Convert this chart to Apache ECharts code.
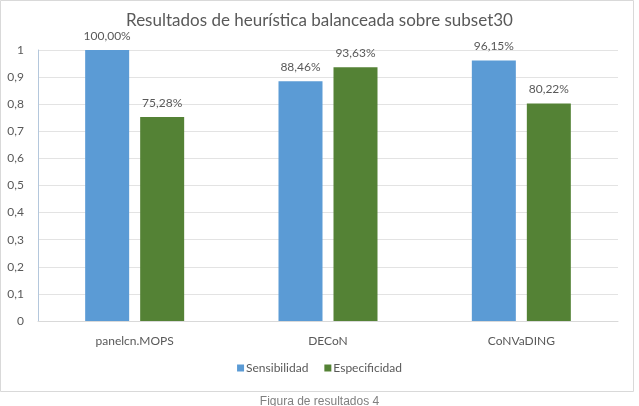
<!DOCTYPE html>
<html>
<head>
<meta charset="utf-8">
<script src="https://cdn.jsdelivr.net/npm/echarts@6/dist/echarts.min.js"></script>
<style>
  html, body { margin: 0; padding: 0; background: #fff; }
  #chart { width: 639px; height: 406px; }
</style>
</head>
<body>
<div id="chart"></div>
<script>
var categories = ['panelcn.MOPS', 'DECoN', 'CoNVaDING'];
var sensibilidad = [1.0, 0.8846, 0.9615];
var especificidad = [0.7528, 0.9363, 0.8022];

var chart = echarts.init(document.getElementById('chart'));

function pct(p) {
    return (p.value * 100).toFixed(2).replace('.', ',') + '%';
}

var option = {
    backgroundColor: '#fff',
    animation: false,
    textStyle: { fontFamily: 'Lato' },
    title: [
        {
            text: 'Resultados de heurística balanceada sobre subset30',
            left: 'center',
            top: 7,
            textStyle: { fontSize: 17, fontWeight: 'normal', color: '#595959', fontFamily: 'Lato' }
        },
        {
            text: 'Figura de resultados 4',
            left: 'center',
            top: 391,
            textStyle: { fontSize: 12, fontWeight: 'normal', color: '#7f7f7f', fontFamily: 'Liberation Sans' }
        }
    ],
    graphic: [
        {
            type: 'rect',
            shape: { x: 0.5, y: 0.5, width: 633, height: 391 },
            style: { fill: 'none', stroke: '#d9d9d9', lineWidth: 1 },
            silent: true
        }
    ],
    legend: {
        data: ['Sensibilidad', 'Especificidad'],
        bottom: 27,
        left: 'center',
        itemWidth: 7,
        itemHeight: 7,
        itemGap: 16,
        icon: 'rect',
        textStyle: { fontSize: 12, color: '#595959', padding: [0, 0, 0, -3] }
    },
    grid: {
        left: 38,
        right: 21,
        top: 50,
        bottom: 85
    },
    xAxis: {
        type: 'category',
        data: categories,
        axisLine: { show: true, lineStyle: { color: '#d9d9d9' } },
        axisTick: { show: false },
        axisLabel: { fontSize: 12, color: '#595959', margin: 14 }
    },
    yAxis: {
        type: 'value',
        min: 0,
        max: 1,
        interval: 0.1,
        axisLine: { show: true, lineStyle: { color: '#b4c7dc' } },
        axisTick: { show: false },
        splitLine: { lineStyle: { color: '#e3e3e3' } },
        axisLabel: {
            fontSize: 12,
            color: '#595959',
            margin: 14,
            formatter: function (v) {
                return String(Math.round(v * 10) / 10).replace('.', ',');
            }
        }
    },
    series: [
        {
            name: 'Sensibilidad',
            type: 'bar',
            data: sensibilidad,
            barWidth: 44,
            barGap: '25%',
            itemStyle: { color: '#5b9bd5' },
            label: {
                show: true,
                position: 'top',
                distance: 8,
                fontSize: 12,
                color: '#595959',
                formatter: pct
            }
        },
        {
            name: 'Especificidad',
            type: 'bar',
            data: especificidad,
            barWidth: 44,
            itemStyle: { color: '#548235' },
            label: {
                show: true,
                position: 'top',
                distance: 8,
                fontSize: 12,
                color: '#595959',
                formatter: pct
            }
        }
    ]
};

chart.setOption(option);
</script>
</body>
</html>
